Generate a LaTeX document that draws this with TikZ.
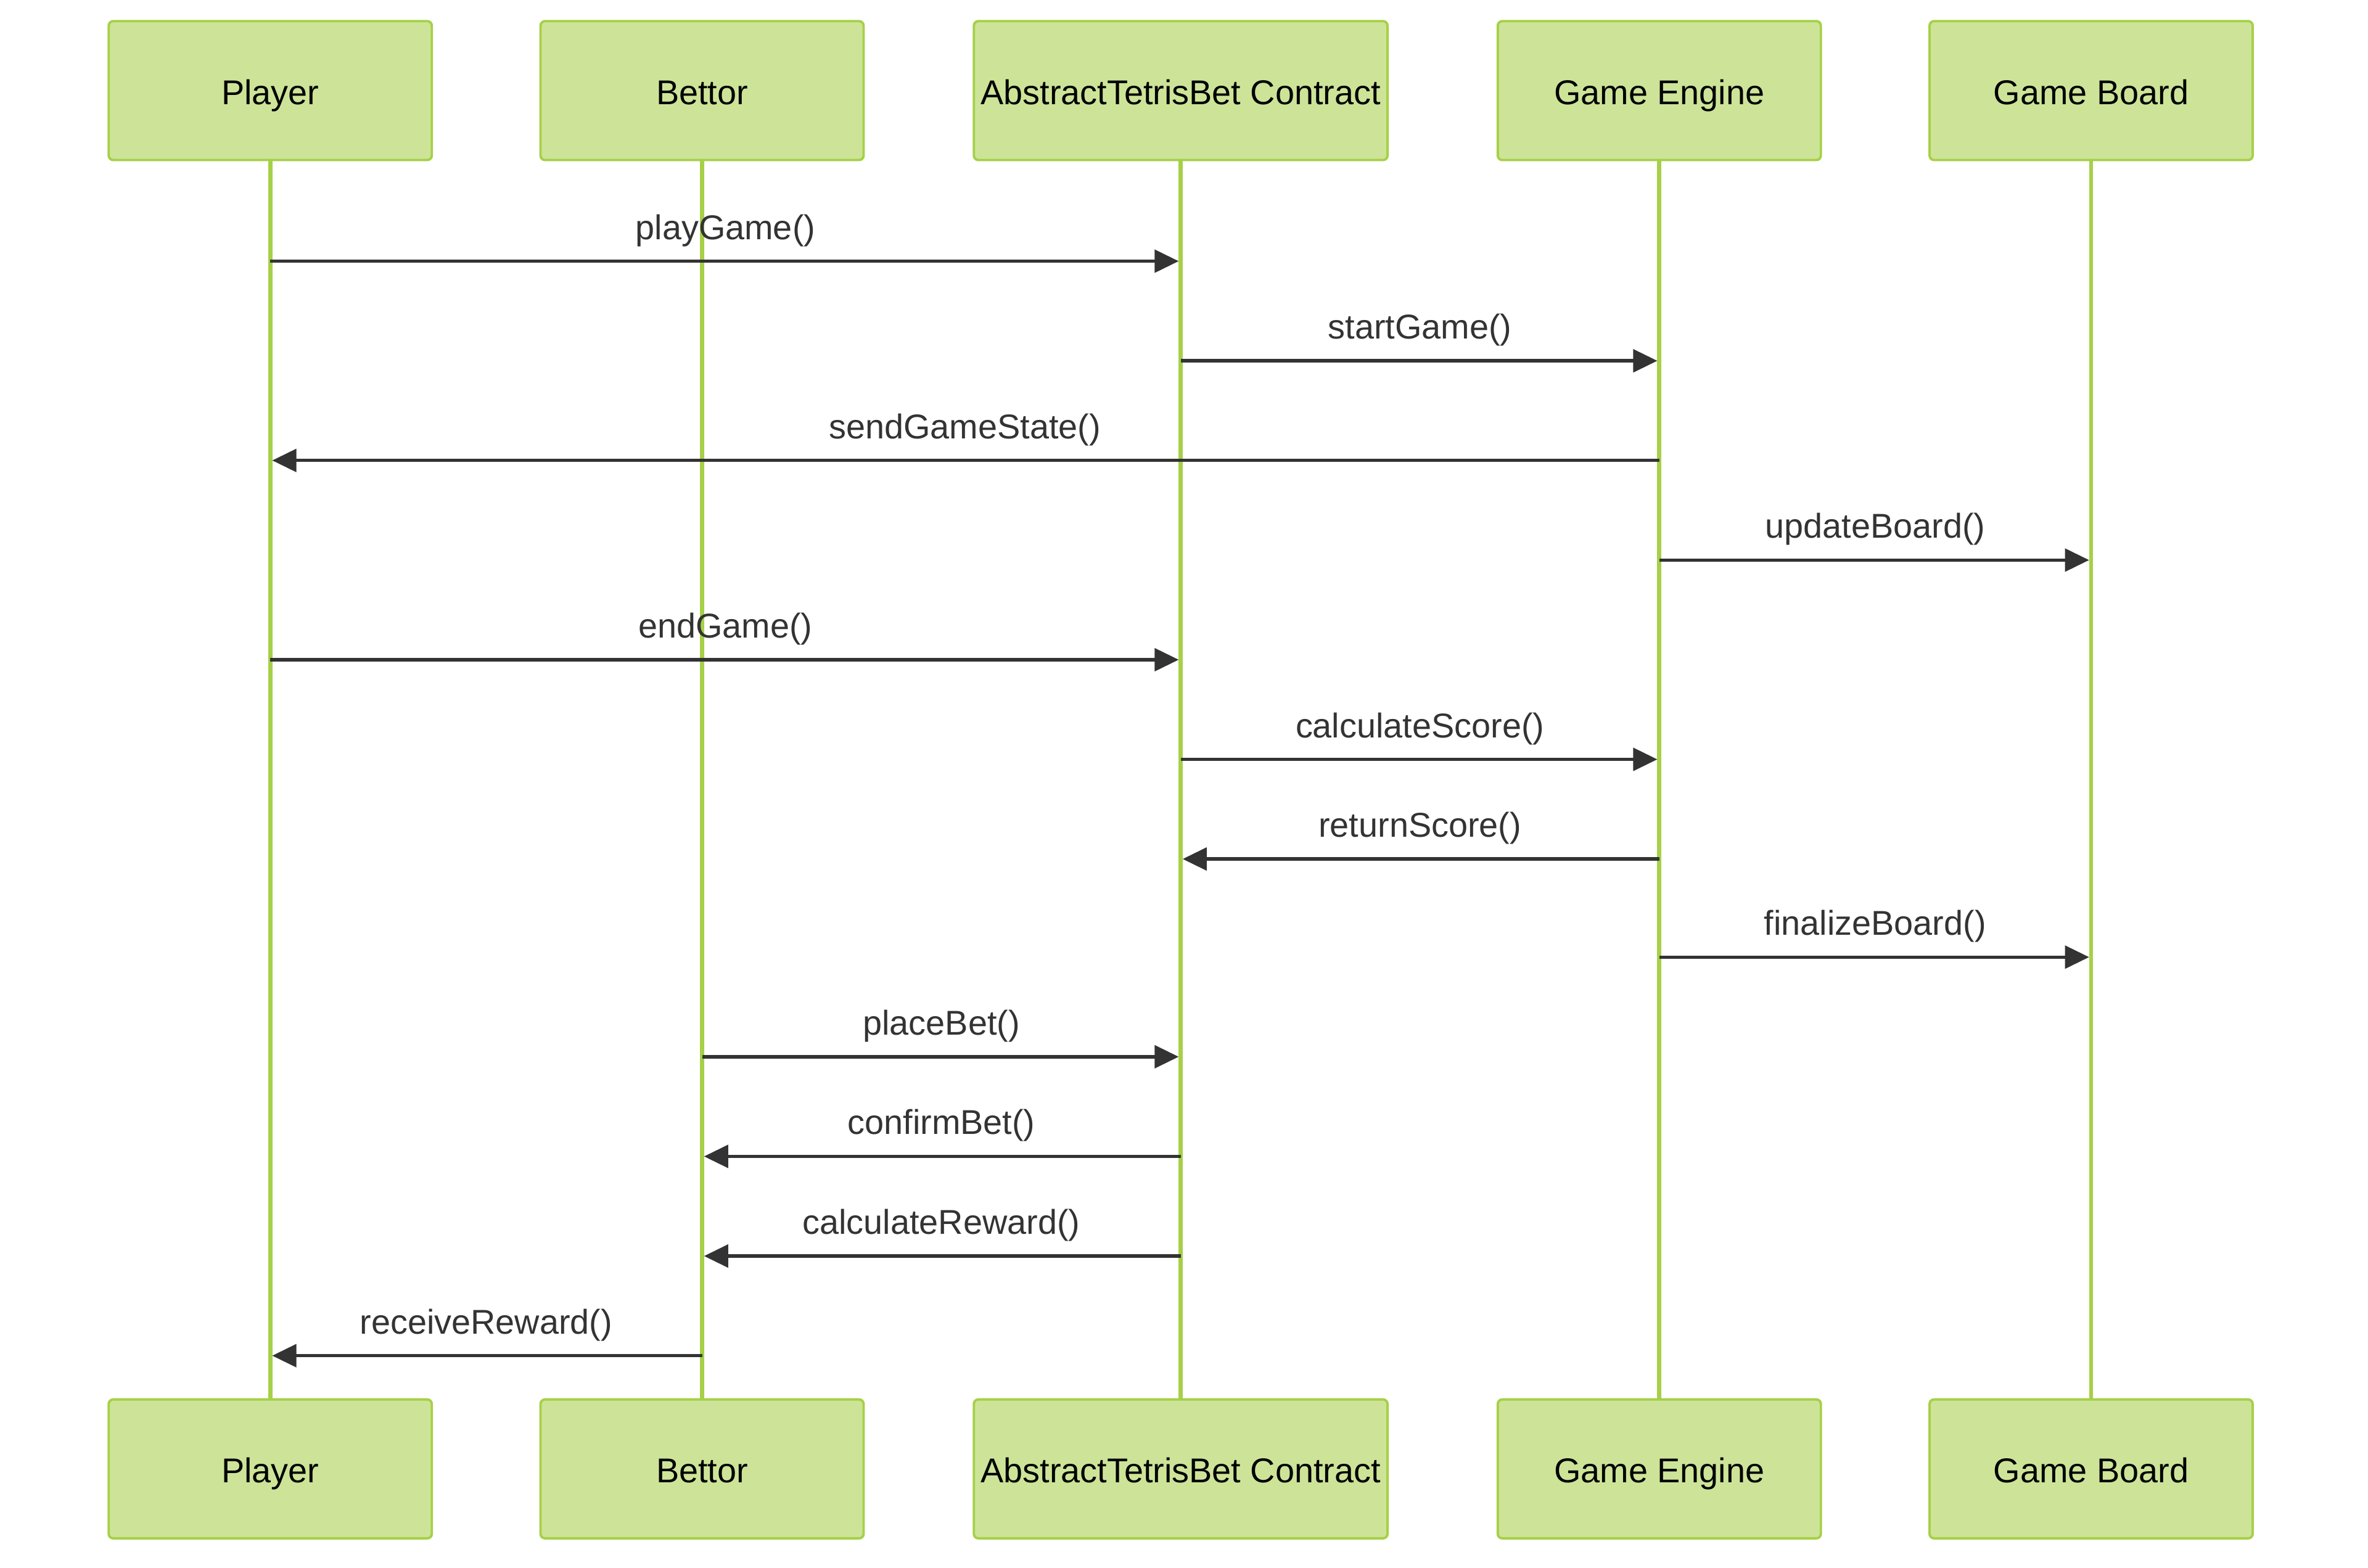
\documentclass[tikz,border=0pt]{standalone}
\usepackage{fontspec}
\setmainfont{Liberation Sans}
\usetikzlibrary{arrows.meta, positioning}
\definecolor{actorfill}{RGB}{205, 228, 152}
\definecolor{actorline}{RGB}{166, 208, 72}
\definecolor{msgline}{RGB}{51, 51, 51}

\begin{document}
\begin{tikzpicture}[x=1pt, y=-1pt,
        actor/.style={draw=actorline, fill=actorfill, line width=1.6pt, rounded corners=3pt,
            minimum height=92pt, inner sep=0pt, text height=18.4pt, text depth=0pt,
            font=\fontsize{22.8}{27}\selectfont},
        life/.style={actorline, line width=2.7pt},
        msg/.style={msgline, line width=2.2pt, -{Triangle[length=16pt, width=15pt]}, shorten >=1.3pt},
        lbl/.style={anchor=base, yshift=14.5pt, text=msgline, font=\fontsize{22.8}{27}\selectfont}]
        \useasboundingbox (0,0) rectangle (1568.4,1038.6);

        % 参与者与生命线
        \foreach \n/\x/\w/\txt in {p/179/214/Player, b/465/214/Bettor, c/782/274/AbstractTetrisBet Contract,
                                  e/1099/214/Game Engine, g/1385/214/Game Board} {
            \node[actor, minimum width=\w pt] (\n-top) at (\x,60) {\txt};
            \node[actor, minimum width=\w pt] (\n-bot) at (\x,973) {\txt};
            \draw[life] (\n-top) -- (\n-bot);
        }

        % 消息位置
        \foreach \n in {p,b,c,e,g} {
            \foreach \i/\y in {1/173, 2/239, 3/305, 4/371, 5/437, 6/503, 7/569, 8/634, 9/700, 10/766, 11/832, 12/898} {
                \coordinate (\n\i) at (\n-top |- 0,\y);
            }
        }

        % 消息
        \foreach \s/\t/\i/\txt in {p/c/1/playGame(), c/e/2/startGame(), e/p/3/sendGameState(),
                                   e/g/4/updateBoard(), p/c/5/endGame(), c/e/6/calculateScore(),
                                   e/c/7/returnScore(), e/g/8/finalizeBoard(), b/c/9/placeBet(),
                                   c/b/10/confirmBet(), c/b/11/calculateReward(), b/p/12/receiveReward()} {
            \draw[msg] (\s\i) -- node[lbl] {\txt} (\t\i);
        }

    \end{tikzpicture}
\end{document}
